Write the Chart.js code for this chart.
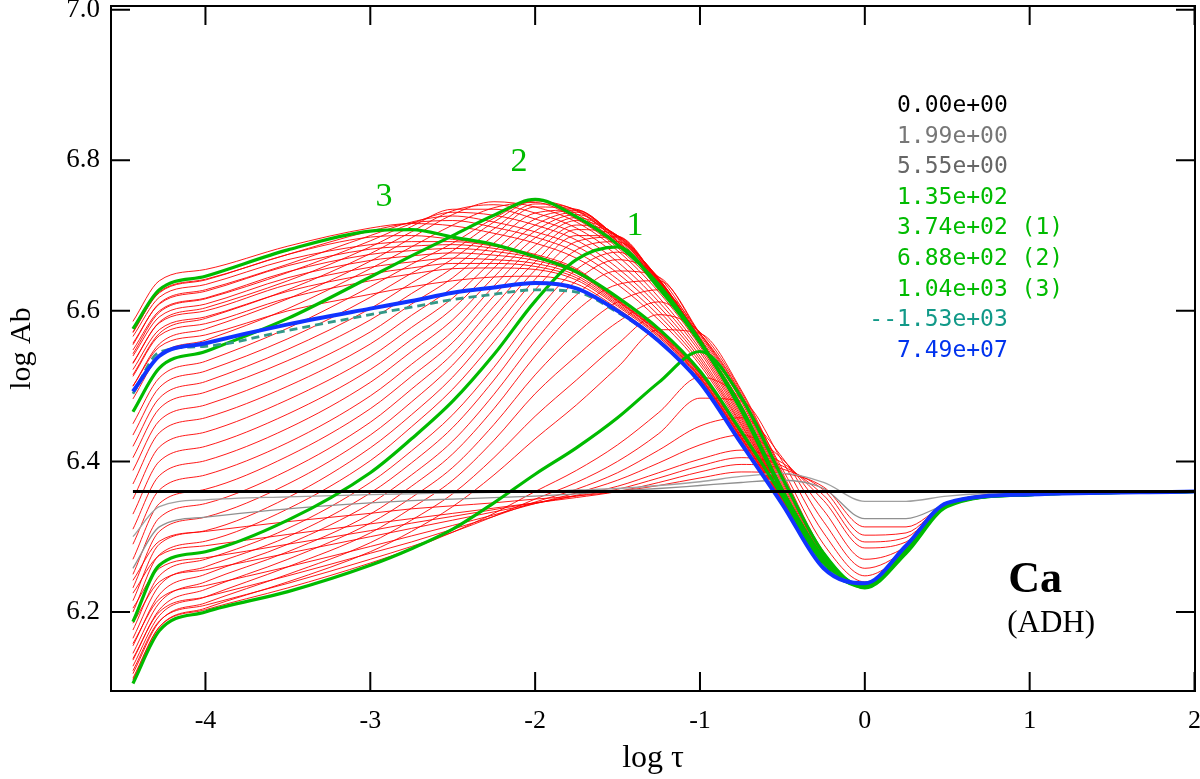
<!DOCTYPE html>
<html>
<head>
<meta charset="utf-8">
<script src="https://cdn.jsdelivr.net/npm/chart.js@4.4.1/dist/chart.umd.min.js"></script>
<style>
  html, body { margin: 0; padding: 0; background: #fff; }
</style>
</head>
<body>
<canvas id="abChart" width="1200" height="779"></canvas>
<script>
// depth grid (log tau) shared by every profile
const logTau = [-4.44, -4.28, -4.0, -3.5, -3.0, -2.75, -2.5, -2.25, -2.0, -1.75, -1.5, -1.25, -1.0, -0.75, -0.5, -0.25, 0.0, 0.25, 0.5, 1.0, 2.0];

const xTicks = [-4, -3, -2, -1, 0, 1, 2];
const yTicks = [6.2, 6.4, 6.6, 6.8, 7.0];

// legend: time labels and their colours
const timeLabels = ['0.00e+00', '1.99e+00', '5.55e+00', '1.35e+02', '3.74e+02 (1)', '6.88e+02 (2)', '1.04e+03 (3)', '--1.53e+03', '7.49e+07'];
const timeColors = ['#000000', '#777777', '#666666', '#00bb00', '#00bb00', '#00bb00', '#00bb00', '#119988', '#0033ee'];

// highlighted profiles
const ab000 = [6.36, 6.36, 6.36, 6.36, 6.36, 6.36, 6.36, 6.36, 6.36, 6.36, 6.36, 6.36, 6.36, 6.36, 6.36, 6.36, 6.36, 6.36, 6.36, 6.36, 6.36];
const ab199 = [6.300, 6.340, 6.349, 6.353, 6.356, 6.357, 6.358, 6.359, 6.360, 6.362, 6.364, 6.368, 6.373, 6.380, 6.384, 6.372, 6.347, 6.347, 6.354, 6.359, 6.360];
const ab555 = [6.258, 6.313, 6.326, 6.337, 6.345, 6.348, 6.350, 6.352, 6.354, 6.357, 6.361, 6.364, 6.368, 6.372, 6.375, 6.364, 6.324, 6.324, 6.343, 6.357, 6.360];
const ab135 = [6.105, 6.175, 6.200, 6.227, 6.262, 6.284, 6.310, 6.345, 6.383, 6.418, 6.458, 6.505, 6.546, 6.485, 6.378, 6.278, 6.232, 6.278, 6.340, 6.356, 6.360];
const ab374 = [6.187, 6.262, 6.280, 6.322, 6.385, 6.430, 6.480, 6.542, 6.613, 6.668, 6.685, 6.630, 6.558, 6.472, 6.362, 6.272, 6.234, 6.282, 6.342, 6.356, 6.360];
const ab688 = [6.466, 6.524, 6.546, 6.590, 6.645, 6.673, 6.700, 6.727, 6.748, 6.725, 6.688, 6.635, 6.560, 6.468, 6.360, 6.266, 6.233, 6.280, 6.342, 6.356, 6.360];
const ab104 = [6.576, 6.628, 6.646, 6.681, 6.706, 6.708, 6.698, 6.688, 6.672, 6.652, 6.618, 6.576, 6.520, 6.440, 6.354, 6.262, 6.235, 6.282, 6.343, 6.356, 6.360];
const ab153 = [6.490, 6.545, 6.553, 6.574, 6.595, 6.605, 6.615, 6.622, 6.628, 6.625, 6.598, 6.560, 6.505, 6.424, 6.343, 6.260, 6.238, 6.288, 6.345, 6.356, 6.360];
const ab749 = [6.493, 6.540, 6.557, 6.582, 6.603, 6.613, 6.624, 6.631, 6.637, 6.630, 6.600, 6.560, 6.505, 6.424, 6.343, 6.258, 6.238, 6.288, 6.345, 6.356, 6.360];

// intermediate profiles (red)
const abA0 = [6.242, 6.294, 6.307, 6.320, 6.331, 6.337, 6.341, 6.345, 6.350, 6.354, 6.360, 6.368, 6.378, 6.386, 6.384, 6.366, 6.313, 6.313, 6.344, 6.358, 6.360];
const abA1 = [6.225, 6.275, 6.288, 6.303, 6.317, 6.324, 6.331, 6.338, 6.345, 6.352, 6.360, 6.372, 6.386, 6.396, 6.390, 6.362, 6.302, 6.305, 6.345, 6.358, 6.360];
const abAx = [6.205, 6.258, 6.272, 6.290, 6.308, 6.318, 6.327, 6.336, 6.345, 6.354, 6.363, 6.378, 6.394, 6.405, 6.394, 6.355, 6.293, 6.299, 6.345, 6.358, 6.360];
const abA2 = [6.185, 6.240, 6.256, 6.278, 6.300, 6.311, 6.322, 6.333, 6.344, 6.355, 6.367, 6.385, 6.403, 6.415, 6.398, 6.348, 6.285, 6.293, 6.344, 6.358, 6.360];
const abA3 = [6.158, 6.217, 6.235, 6.260, 6.287, 6.301, 6.315, 6.329, 6.344, 6.358, 6.375, 6.398, 6.422, 6.435, 6.403, 6.335, 6.270, 6.287, 6.343, 6.357, 6.360];
const abA4 = [6.138, 6.200, 6.220, 6.248, 6.278, 6.293, 6.310, 6.327, 6.346, 6.363, 6.385, 6.415, 6.447, 6.458, 6.405, 6.320, 6.258, 6.283, 6.342, 6.357, 6.360];
const abA5 = [6.122, 6.188, 6.209, 6.238, 6.270, 6.287, 6.306, 6.327, 6.350, 6.372, 6.400, 6.437, 6.484, 6.480, 6.400, 6.305, 6.248, 6.280, 6.342, 6.357, 6.360];
const abA6 = [6.110, 6.180, 6.203, 6.232, 6.265, 6.284, 6.306, 6.331, 6.360, 6.388, 6.422, 6.465, 6.512, 6.482, 6.390, 6.290, 6.240, 6.279, 6.341, 6.357, 6.360];
const abB1 = [6.112, 6.180, 6.205, 6.240, 6.280, 6.307, 6.340, 6.382, 6.430, 6.475, 6.525, 6.575, 6.570, 6.495, 6.385, 6.280, 6.233, 6.279, 6.341, 6.356, 6.360];
const abBx1 = [6.118, 6.187, 6.212, 6.250, 6.292, 6.322, 6.357, 6.405, 6.460, 6.508, 6.556, 6.595, 6.572, 6.493, 6.382, 6.279, 6.233, 6.279, 6.341, 6.356, 6.360];
const abB2 = [6.128, 6.195, 6.220, 6.260, 6.305, 6.338, 6.375, 6.428, 6.490, 6.540, 6.585, 6.612, 6.570, 6.490, 6.378, 6.278, 6.234, 6.279, 6.341, 6.356, 6.360];
const abBx2 = [6.136, 6.203, 6.230, 6.270, 6.318, 6.352, 6.392, 6.449, 6.515, 6.570, 6.612, 6.628, 6.570, 6.488, 6.375, 6.277, 6.234, 6.280, 6.341, 6.356, 6.360];
const abB3 = [6.145, 6.212, 6.240, 6.280, 6.330, 6.367, 6.410, 6.470, 6.540, 6.600, 6.635, 6.640, 6.570, 6.485, 6.372, 6.276, 6.234, 6.280, 6.341, 6.356, 6.360];
const abBx3 = [6.155, 6.223, 6.250, 6.290, 6.344, 6.382, 6.427, 6.489, 6.560, 6.621, 6.653, 6.645, 6.568, 6.483, 6.369, 6.275, 6.234, 6.280, 6.342, 6.356, 6.360];
const abB4 = [6.165, 6.235, 6.260, 6.300, 6.358, 6.398, 6.445, 6.508, 6.580, 6.640, 6.668, 6.645, 6.565, 6.480, 6.366, 6.274, 6.234, 6.280, 6.342, 6.356, 6.360];
const abBx4 = [6.176, 6.248, 6.270, 6.311, 6.372, 6.414, 6.462, 6.525, 6.597, 6.655, 6.678, 6.638, 6.562, 6.476, 6.364, 6.273, 6.234, 6.281, 6.342, 6.356, 6.360];
const abCx0 = [6.200, 6.276, 6.294, 6.337, 6.401, 6.446, 6.496, 6.559, 6.628, 6.681, 6.692, 6.633, 6.560, 6.472, 6.362, 6.272, 6.234, 6.282, 6.342, 6.356, 6.360];
const abC1 = [6.215, 6.290, 6.308, 6.352, 6.418, 6.462, 6.512, 6.576, 6.642, 6.692, 6.698, 6.635, 6.562, 6.471, 6.362, 6.271, 6.234, 6.282, 6.342, 6.356, 6.360];
const abCx1 = [6.232, 6.307, 6.326, 6.370, 6.435, 6.479, 6.528, 6.591, 6.654, 6.700, 6.699, 6.638, 6.562, 6.471, 6.362, 6.271, 6.234, 6.282, 6.342, 6.356, 6.360];
const abC2 = [6.250, 6.325, 6.344, 6.388, 6.452, 6.496, 6.543, 6.606, 6.665, 6.708, 6.700, 6.640, 6.563, 6.471, 6.361, 6.270, 6.234, 6.282, 6.342, 6.356, 6.360];
const abCx2 = [6.270, 6.344, 6.363, 6.407, 6.470, 6.513, 6.558, 6.620, 6.676, 6.714, 6.700, 6.641, 6.563, 6.470, 6.361, 6.270, 6.234, 6.282, 6.342, 6.356, 6.360];
const abC3 = [6.290, 6.362, 6.382, 6.425, 6.487, 6.529, 6.573, 6.633, 6.687, 6.720, 6.700, 6.642, 6.563, 6.470, 6.361, 6.270, 6.234, 6.281, 6.342, 6.356, 6.360];
const abCx3 = [6.310, 6.381, 6.401, 6.444, 6.505, 6.546, 6.588, 6.645, 6.697, 6.724, 6.699, 6.643, 6.563, 6.470, 6.361, 6.269, 6.234, 6.281, 6.342, 6.356, 6.360];
const abC4 = [6.330, 6.400, 6.420, 6.463, 6.522, 6.562, 6.603, 6.657, 6.706, 6.728, 6.698, 6.643, 6.562, 6.470, 6.361, 6.269, 6.234, 6.281, 6.342, 6.356, 6.360];
const abCx4 = [6.350, 6.419, 6.439, 6.482, 6.539, 6.578, 6.617, 6.668, 6.714, 6.731, 6.697, 6.642, 6.562, 6.470, 6.360, 6.268, 6.234, 6.281, 6.342, 6.356, 6.360];
const abC5 = [6.370, 6.438, 6.458, 6.500, 6.556, 6.594, 6.631, 6.679, 6.722, 6.733, 6.696, 6.642, 6.562, 6.469, 6.360, 6.268, 6.234, 6.281, 6.342, 6.356, 6.360];
const abCx5 = [6.388, 6.454, 6.475, 6.517, 6.572, 6.609, 6.644, 6.690, 6.730, 6.734, 6.694, 6.641, 6.561, 6.469, 6.360, 6.268, 6.234, 6.280, 6.342, 6.356, 6.360];
const abC6 = [6.405, 6.470, 6.492, 6.534, 6.588, 6.623, 6.657, 6.700, 6.738, 6.735, 6.692, 6.640, 6.561, 6.469, 6.360, 6.267, 6.234, 6.280, 6.342, 6.356, 6.360];
const abCx6 = [6.420, 6.484, 6.506, 6.549, 6.603, 6.637, 6.669, 6.709, 6.742, 6.734, 6.692, 6.639, 6.561, 6.468, 6.360, 6.267, 6.233, 6.280, 6.342, 6.356, 6.360];
const abC7 = [6.435, 6.498, 6.520, 6.563, 6.618, 6.650, 6.680, 6.718, 6.746, 6.733, 6.692, 6.638, 6.560, 6.468, 6.360, 6.267, 6.233, 6.280, 6.342, 6.356, 6.360];
const abCx7 = [6.450, 6.511, 6.533, 6.577, 6.632, 6.662, 6.690, 6.723, 6.747, 6.729, 6.690, 6.636, 6.560, 6.468, 6.360, 6.266, 6.233, 6.280, 6.342, 6.356, 6.360];
const abDx0 = [6.483, 6.540, 6.561, 6.603, 6.656, 6.685, 6.714, 6.737, 6.744, 6.722, 6.684, 6.630, 6.556, 6.465, 6.359, 6.266, 6.234, 6.281, 6.342, 6.356, 6.360];
const abD1 = [6.500, 6.556, 6.576, 6.616, 6.666, 6.697, 6.728, 6.745, 6.738, 6.718, 6.680, 6.625, 6.553, 6.462, 6.358, 6.265, 6.234, 6.281, 6.342, 6.356, 6.360];
const abDx1 = [6.515, 6.570, 6.590, 6.628, 6.676, 6.705, 6.733, 6.741, 6.730, 6.710, 6.673, 6.618, 6.549, 6.459, 6.358, 6.265, 6.234, 6.281, 6.342, 6.356, 6.360];
const abD2 = [6.530, 6.585, 6.604, 6.640, 6.685, 6.712, 6.735, 6.735, 6.722, 6.702, 6.665, 6.612, 6.545, 6.456, 6.357, 6.264, 6.235, 6.281, 6.342, 6.356, 6.360];
const abDx2 = [6.543, 6.598, 6.616, 6.651, 6.693, 6.716, 6.731, 6.727, 6.714, 6.694, 6.657, 6.606, 6.540, 6.453, 6.357, 6.264, 6.235, 6.282, 6.342, 6.356, 6.360];
const abD3 = [6.555, 6.610, 6.628, 6.662, 6.700, 6.718, 6.726, 6.718, 6.705, 6.686, 6.650, 6.600, 6.536, 6.450, 6.356, 6.263, 6.235, 6.282, 6.343, 6.356, 6.360];
const abDx3 = [6.571, 6.625, 6.642, 6.675, 6.706, 6.717, 6.720, 6.711, 6.698, 6.678, 6.642, 6.594, 6.532, 6.448, 6.356, 6.263, 6.235, 6.282, 6.343, 6.356, 6.360];
const abD4 = [6.586, 6.640, 6.655, 6.686, 6.710, 6.716, 6.713, 6.703, 6.690, 6.670, 6.635, 6.588, 6.528, 6.445, 6.355, 6.263, 6.235, 6.282, 6.343, 6.356, 6.360];
const abEx0 = [6.572, 6.624, 6.641, 6.675, 6.698, 6.700, 6.695, 6.687, 6.673, 6.654, 6.617, 6.575, 6.518, 6.438, 6.353, 6.262, 6.236, 6.283, 6.343, 6.356, 6.360];
const abE1 = [6.566, 6.618, 6.635, 6.668, 6.688, 6.692, 6.692, 6.686, 6.675, 6.656, 6.615, 6.573, 6.517, 6.437, 6.352, 6.261, 6.236, 6.284, 6.344, 6.356, 6.360];
const abEx1 = [6.557, 6.609, 6.626, 6.660, 6.682, 6.686, 6.688, 6.683, 6.672, 6.654, 6.614, 6.572, 6.516, 6.436, 6.351, 6.261, 6.236, 6.285, 6.344, 6.356, 6.360];
const abE2 = [6.548, 6.600, 6.617, 6.652, 6.675, 6.680, 6.683, 6.679, 6.670, 6.652, 6.613, 6.571, 6.515, 6.435, 6.351, 6.260, 6.236, 6.285, 6.344, 6.356, 6.360];
const abEx2 = [6.540, 6.592, 6.609, 6.644, 6.667, 6.673, 6.677, 6.674, 6.667, 6.650, 6.612, 6.570, 6.513, 6.433, 6.350, 6.260, 6.237, 6.285, 6.344, 6.356, 6.360];
const abE3 = [6.531, 6.584, 6.600, 6.635, 6.658, 6.665, 6.670, 6.668, 6.663, 6.647, 6.610, 6.568, 6.512, 6.432, 6.349, 6.260, 6.237, 6.286, 6.345, 6.356, 6.360];
const abEx3 = [6.522, 6.575, 6.592, 6.626, 6.649, 6.657, 6.663, 6.663, 6.659, 6.644, 6.608, 6.567, 6.511, 6.431, 6.348, 6.259, 6.237, 6.286, 6.345, 6.356, 6.360];
const abE4 = [6.513, 6.567, 6.583, 6.617, 6.640, 6.649, 6.656, 6.657, 6.655, 6.641, 6.606, 6.565, 6.510, 6.430, 6.347, 6.259, 6.237, 6.287, 6.345, 6.356, 6.360];
const abE5 = [6.500, 6.552, 6.568, 6.600, 6.622, 6.632, 6.640, 6.645, 6.646, 6.636, 6.603, 6.562, 6.508, 6.428, 6.345, 6.259, 6.238, 6.287, 6.345, 6.356, 6.360];

const redProfiles = [abA0, abA1, abAx, abA2, abA3, abA4, abA5, abA6,
    abB1, abBx1, abB2, abBx2, abB3, abBx3, abB4, abBx4,
    abCx0, abC1, abCx1, abC2, abCx2, abC3, abCx3, abC4, abCx4, abC5, abCx5, abC6, abCx6, abC7, abCx7,
    abDx0, abD1, abDx1, abD2, abDx2, abD3, abDx3, abD4,
    abEx0, abE1, abEx1, abE2, abEx2, abE3, abEx3, abE4, abE5];

const serif = "'Liberation Serif', 'Times New Roman', serif";

function profile(vals, color, width, order, dash) {
    return {
        data: vals.map((v, i) => ({ x: logTau[i], y: v })),
        borderColor: color,
        borderWidth: width,
        borderDash: dash || [],
        pointRadius: 0,
        fill: false,
        order: order,
        cubicInterpolationMode: 'monotone'
    };
}

const datasets = [];
redProfiles.forEach(p => datasets.push(profile(p, 'rgba(255,0,0,0.9)', 1, 9)));
datasets.push(profile(ab199, '#a0a0a0', 1.3, 8));
datasets.push(profile(ab555, '#909090', 1.3, 8));
datasets.push(profile(ab135, '#00bb00', 3.2, 5));
datasets.push(profile(ab374, '#00bb00', 3.2, 5));
datasets.push(profile(ab688, '#00bb00', 3.2, 5));
datasets.push(profile(ab104, '#00bb00', 3.2, 5));
datasets.push(profile(ab153, '#339988', 2.8, 3, [8, 5]));
datasets.push(profile(ab749, '#1133ff', 4, 2));
datasets.push(profile(ab000, '#000000', 2.8, 1));

// frame, inward ticks and text annotations
const decorations = {
    id: 'decorations',
    afterDraw(chart) {
        const ctx = chart.ctx;
        const a = chart.chartArea;
        const xs = chart.scales.x;
        const ys = chart.scales.y;
        ctx.save();
        ctx.strokeStyle = '#000';
        ctx.lineWidth = 2;
        ctx.strokeRect(a.left, a.top, a.right - a.left, a.bottom - a.top);
        ctx.beginPath();
        xTicks.forEach(v => {
            const px = xs.getPixelForValue(v);
            ctx.moveTo(px, a.bottom); ctx.lineTo(px, a.bottom - 19);
            ctx.moveTo(px, a.top); ctx.lineTo(px, a.top + 19);
        });
        yTicks.forEach(v => {
            const py = ys.getPixelForValue(v);
            ctx.moveTo(a.left, py); ctx.lineTo(a.left + 19, py);
            ctx.moveTo(a.right, py); ctx.lineTo(a.right - 19, py);
        });
        ctx.stroke();

        // peak labels
        ctx.fillStyle = '#00bb00';
        ctx.font = '34px ' + serif;
        ctx.textAlign = 'center';
        ctx.textBaseline = 'middle';
        ctx.fillText('3', xs.getPixelForValue(-2.917), ys.getPixelForValue(6.751));
        ctx.fillText('2', xs.getPixelForValue(-2.098), ys.getPixelForValue(6.797));
        ctx.fillText('1', xs.getPixelForValue(-1.394), ys.getPixelForValue(6.713));

        // element name
        ctx.fillStyle = '#000';
        ctx.textAlign = 'left';
        ctx.textBaseline = 'alphabetic';
        ctx.font = 'bold 44px ' + serif;
        ctx.fillText('Ca', xs.getPixelForValue(0.87), ys.getPixelForValue(6.2266));
        ctx.font = '31px ' + serif;
        ctx.fillText('(ADH)', xs.getPixelForValue(0.864), ys.getPixelForValue(6.1734));

        // legend of times
        ctx.font = "23px 'DejaVu Sans Mono', monospace";
        const lx = 897;
        timeLabels.forEach((t, i) => {
            ctx.fillStyle = timeColors[i];
            const lead = t.startsWith('--') ? ctx.measureText('--').width : 0;
            ctx.fillText(t, lx - lead, 112 + i * 30.6);
        });
        ctx.restore();
    }
};

const ctx = document.getElementById('abChart').getContext('2d');
new Chart(ctx, {
    type: 'line',
    data: { datasets: datasets },
    options: {
        responsive: false,
        animation: false,
        layout: { padding: { top: 6, right: 5, left: 0, bottom: 0 } },
        plugins: {
            legend: { display: false },
            tooltip: { enabled: false }
        },
        scales: {
            x: {
                type: 'linear',
                min: -4.573,
                max: 2.003,
                afterBuildTicks: s => { s.ticks = xTicks.map(v => ({ value: v })); },
                afterFit: s => { s.height = 88; s.paddingLeft = 0; s.paddingRight = 0; },
                grid: { display: false, drawTicks: false },
                border: { display: false },
                ticks: {
                    color: '#000',
                    padding: 15,
                    maxRotation: 0,
                    font: { family: serif, size: 26 },
                    callback: v => String(v)
                },
                title: {
                    display: true,
                    text: 'log τ',
                    color: '#000',
                    font: { family: serif, size: 32 },
                    padding: { top: 0, bottom: 1 }
                }
            },
            y: {
                type: 'linear',
                min: 6.095,
                max: 7.005,
                afterBuildTicks: s => { s.ticks = yTicks.map(v => ({ value: v })); },
                afterFit: s => { s.width = 111; s.paddingTop = 0; s.paddingBottom = 0; },
                grid: { display: false, drawTicks: false },
                border: { display: false },
                ticks: {
                    color: '#000',
                    padding: 11,
                    font: { family: serif, size: 27 },
                    callback: v => v.toFixed(1)
                },
                title: {
                    display: true,
                    text: 'log Ab',
                    color: '#000',
                    font: { family: serif, size: 30 },
                    padding: { top: 4, bottom: 0 }
                }
            }
        }
    },
    plugins: [decorations]
});
</script>
</body>
</html>
